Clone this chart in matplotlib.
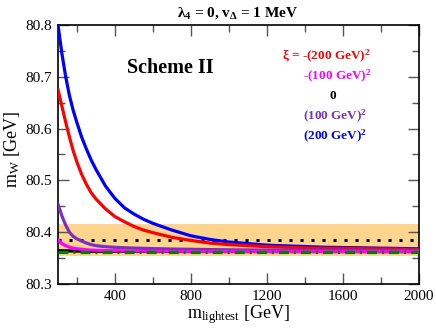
import matplotlib
matplotlib.use("Agg")
import matplotlib.pyplot as plt
from matplotlib.ticker import MultipleLocator

plt.rcParams['font.family'] = ['Liberation Serif', 'DejaVu Serif']
plt.rcParams['mathtext.default'] = 'regular'

# data
m_grid = [100, 120, 140, 160, 180, 200, 225, 250, 275, 300, 350, 400, 450, 500, 550, 600,
          700, 800, 900, 1000, 1200, 1500, 2000]
mw_blue = [80.800, 80.746, 80.701, 80.664, 80.635, 80.611, 80.583, 80.560, 80.539, 80.521,
           80.489, 80.465, 80.447, 80.435, 80.425, 80.417, 80.404, 80.393, 80.386, 80.381,
           80.375, 80.371, 80.368]
mw_red = [80.675, 80.644, 80.613, 80.584, 80.557, 80.535, 80.511, 80.492, 80.476, 80.464,
          80.445, 80.430, 80.420, 80.411, 80.404, 80.399, 80.390, 80.384, 80.379, 80.376,
          80.372, 80.369, 80.367]
mw_purple = [80.454, 80.432, 80.414, 80.400, 80.392, 80.387, 80.383, 80.379, 80.376, 80.374,
             80.372, 80.3708, 80.370, 80.3693, 80.3688, 80.3683, 80.3675, 80.367, 80.3665,
             80.366, 80.3655, 80.365, 80.3645]
mw_magenta = [80.385, 80.378, 80.374, 80.371, 80.369, 80.368, 80.367, 80.366, 80.3655, 80.365,
              80.3645, 80.364, 80.3638, 80.3636, 80.3635, 80.3634, 80.3632, 80.3631, 80.363,
              80.363, 80.3629, 80.3628, 80.3627]
mw_black = [80.3645, 80.3642, 80.364, 80.3638, 80.3636, 80.3635, 80.3634, 80.3633, 80.3632,
            80.3631, 80.363, 80.363, 80.3629, 80.3628, 80.3628, 80.3627, 80.3627, 80.3626,
            80.3626, 80.3625, 80.3625, 80.3625, 80.3624]
mw_sm = 80.362
mw_exp = 80.385
mw_exp_err = 0.030

labels = ['ξ = -(200 GeV)$^2$', '-(100 GeV)$^2$', '0', '(100 GeV)$^2$', '(200 GeV)$^2$']
label_colors = ['#FF0000', '#FF00FF', '#000000', '#7B2FBE', '#0000FF']

fig = plt.figure(figsize=(4.36, 3.29), dpi=100)
ax = fig.add_axes([58/436, 45/329, 361/436, 259/329])

ax.axhspan(mw_exp - mw_exp_err, mw_exp + mw_exp_err, color='#FDD58C', lw=0, zorder=1)
ax.axhline(mw_exp, color='black', lw=2.2, ls=(0, (1, 2.6)), zorder=2)

ax.plot(m_grid, mw_blue, color='#0000FF', lw=2.3, zorder=3)
ax.plot(m_grid, mw_red, color='#FF0000', lw=2.3, zorder=3)
ax.plot(m_grid, mw_purple, color='#7B2FBE', lw=2.3, zorder=3)
ax.plot(m_grid, mw_black, color='black', lw=2.3, zorder=3)
ax.plot(m_grid, mw_magenta, color='#FF00FF', lw=2.3, zorder=4)
ax.plot([m_grid[0], m_grid[-1]], [mw_sm, mw_sm], color='#008000', lw=2.3,
        ls=(0, (3.1, 1.6, 0.6, 1.6)), zorder=5)

ax.set_xlim(100, 2000)
ax.set_ylim(80.3, 80.8)
ax.xaxis.set_major_locator(MultipleLocator(400))
ax.xaxis.set_minor_locator(MultipleLocator(200))
ax.yaxis.set_minor_locator(MultipleLocator(0.05))
ax.set_yticks([80.3, 80.4, 80.5, 80.6, 80.7, 80.8])
ax.set_yticklabels(['80.3', '80.4', '80.5', '80.6', '80.7', '80.8'])
ax.tick_params(which='both', direction='in', top=True, right=True, labelsize=11,
               color='#555555', width=1)
ax.tick_params(which='major', length=8, pad=4)
ax.tick_params(which='minor', length=5)
for s in ax.spines.values():
    s.set_linewidth(1.2)

ax.text(689, 80.717, 'Scheme II', fontsize=14.5, fontweight='bold', ha='center', va='center')

lab_pos = [(326, 56), (337, 76), (333, 96), (335, 116), (335, 136)]
for (px, py), t, c in zip(lab_pos, labels, label_colors):
    ax.text((px - 58) / 361, (284 - py) / 259, t, transform=ax.transAxes, color=c,
            fontsize=9.5, fontweight='bold', ha='center', va='center')

fig.text(238/436, 1 - 13/329, 'λ$_4$ = 0, v$_Δ$ = 1 MeV', fontsize=11, fontweight='bold',
         ha='center', va='center')
fig.text(12/436, 1 - 149/329, 'm$_W$ [GeV]', fontsize=13, rotation=90, ha='center', va='center')
fig.text(238/436, 1 - 315/329, 'm$_{lightest}$ [GeV]', fontsize=13, ha='center', va='center')

fig.savefig('out.png', dpi=100)
